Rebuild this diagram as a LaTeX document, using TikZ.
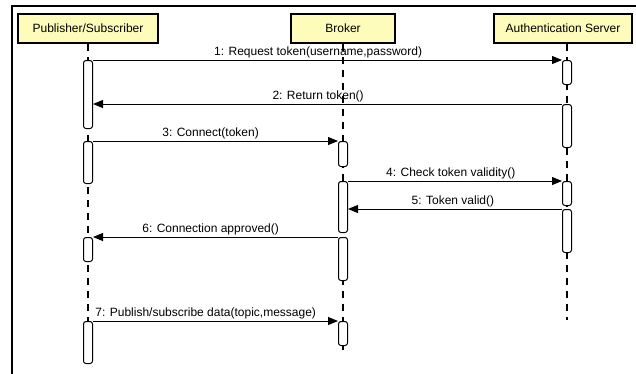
\documentclass[tikz,border=0pt]{standalone}
\usepackage{fontspec}
\setmainfont{Liberation Sans}
\usetikzlibrary{arrows.meta}
\definecolor{headfill}{RGB}{253,252,186}

\begin{document}
\begin{tikzpicture}[x=1pt, y=-1pt,
    font=\fontsize{12}{14}\selectfont,
    head/.style={draw, line width=2.4pt, fill=headfill, minimum height=29pt, inner sep=0pt},
    bar/.style={draw, fill=white, line width=1pt, rounded corners=2.5pt, minimum width=9pt, inner sep=0pt, anchor=north},
    life/.style={line width=1.4pt, dash pattern=on 7pt off 6pt},
    msg/.style={line width=1pt, -{Triangle[length=10pt, width=8pt]}},
    lbl/.style={above, inner sep=1.5pt}]
        \useasboundingbox (0,0) rectangle (636,373);
        \clip (0,0) rectangle (636,373);

        % frame
        \draw[line width=2pt] (12,390) -- (12,6) -- (650,6);

        % lifeline heads
        \node[head, minimum width=140pt] (pub) at (88,28.5) {Publisher/Subscriber};
        \node[head, minimum width=104pt] (brk) at (343,28.5) {Broker};
        \node[head, minimum width=138pt] (auth) at (563,28.5) {Authentication Server};

        \coordinate (pubend) at (88,368);
        \coordinate (brkend) at (343,353);
        \coordinate (authend) at (567,320);

        \draw[life] (pub) -- (pubend);
        \draw[life] (brk) -- (brkend);
        \draw[life] (auth.south -| authend) -- (authend);

        % activation bars
        \node[bar, minimum height=68pt] (p1) at (88,60) {};
        \node[bar, minimum height=42pt] (p2) at (88,141) {};
        \node[bar, minimum height=24pt] (p3) at (88,237) {};
        \node[bar, minimum height=42pt] (p4) at (88,321) {};

        \node[bar, minimum height=25pt] (b1) at (343,141) {};
        \node[bar, minimum height=51pt] (b2) at (343,181) {};
        \node[bar, minimum height=43pt] (b3) at (343,237) {};
        \node[bar, minimum height=24pt] (b4) at (343,321) {};

        \node[bar, minimum height=24pt] (a1) at (567,60) {};
        \node[bar, minimum height=43pt] (a2) at (567,104) {};
        \node[bar, minimum height=24pt] (a3) at (567,181) {};
        \node[bar, minimum height=43pt] (a4) at (567,209) {};

        % messages
        \draw[msg] (p1.north east) -- node[lbl, pos=0.48] {1: Request token(username,password)} (a1.north west);
        \draw[msg] (a2.north west) -- node[lbl, pos=0.52] {2: Return token()} (a2.north west -| p1.east);
        \draw[msg] (p2.north east) -- node[lbl, pos=0.48] {3: Connect(token)} (b1.north west);
        \draw[msg] (b2.north east) -- node[lbl, pos=0.48] {4: Check token validity()} (a3.north west);
        \draw[msg] (a4.north west) -- node[lbl, pos=0.51] {5: Token valid()} (a4.north west -| b2.east);
        \draw[msg] (b3.north west) -- node[lbl, pos=0.52] {6: Connection approved()} (p3.north east);
        \draw[msg] (p4.north east) -- node[lbl, pos=0.46] {7: Publish/subscribe data(topic,message)} (b4.north west);
      \end{tikzpicture}
\end{document}
